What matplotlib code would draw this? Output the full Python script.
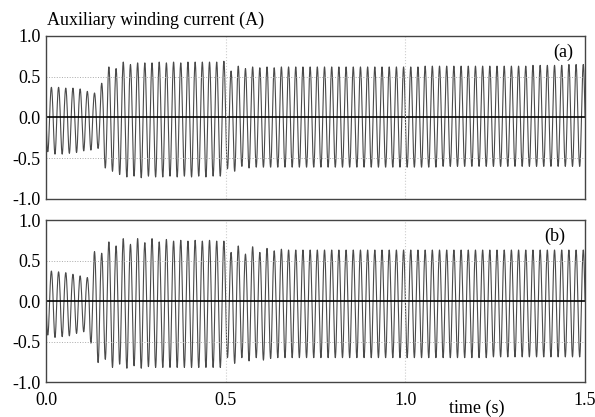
import numpy as np
import matplotlib.pyplot as plt

plt.rcParams["font.family"] = "Liberation Serif"

# supply frequency and per-cycle extremes
freq = 50.0
t_end = 1.5

peaks_a = ([0.37, 0.37, 0.36, 0.36, 0.35, 0.32, 0.30, 0.42,
            0.62, 0.60, 0.68, 0.65, 0.67, 0.67, 0.67, 0.68, 0.67, 0.68,
            0.67, 0.68, 0.68, 0.68, 0.68, 0.68, 0.69,
            0.57, 0.63, 0.60, 0.62, 0.61, 0.62, 0.61]
           + [0.62] * 20 + [0.63] * 15 + [0.64] * 5 + [0.65] * 3)
troughs_a = ([-0.42, -0.45, -0.45, -0.44, -0.43, -0.41, -0.40, -0.38,
              -0.62, -0.66, -0.70, -0.73, -0.72, -0.74, -0.72, -0.73, -0.73, -0.72,
              -0.73, -0.72, -0.73, -0.72, -0.73, -0.72, -0.72,
              -0.63, -0.66, -0.60, -0.62, -0.61]
             + [-0.61] * 25 + [-0.60] * 20)

peaks_b = ([0.37, 0.36, 0.35, 0.33, 0.31, 0.29,
            0.61, 0.59, 0.73, 0.68, 0.77, 0.70, 0.77, 0.72, 0.77, 0.73, 0.76, 0.74,
            0.75, 0.74, 0.75, 0.74, 0.75, 0.74, 0.74,
            0.60, 0.68, 0.58, 0.67, 0.60, 0.65, 0.62, 0.64, 0.63]
           + [0.63] * 41)
troughs_b = ([-0.42, -0.45, -0.44, -0.43, -0.40, -0.38,
              -0.52, -0.76, -0.72, -0.82, -0.78, -0.83, -0.80, -0.83,
              -0.81, -0.82, -0.82, -0.82, -0.82, -0.82, -0.82, -0.82, -0.82, -0.82, -0.82,
              -0.70, -0.77, -0.70, -0.74, -0.70, -0.73, -0.71]
             + [-0.70] * 30 + [-0.69] * 13)


def waveform(peaks, troughs):
    t = np.linspace(0, t_end, 6001)
    k = np.minimum((t * freq).astype(int), len(peaks) - 1)
    s = -np.sin(2 * np.pi * freq * t)
    amp = np.where(s < 0, -np.array(troughs)[k], np.array(peaks)[k])
    return t, s * amp


fig = plt.figure(figsize=(5.95, 4.17), dpi=100)
ax_a = fig.add_axes([0.0773, 0.5228, 0.906, 0.391])
ax_b = fig.add_axes([0.0773, 0.0839, 0.906, 0.3885])

panels = [(ax_a, peaks_a, troughs_a, "(a)", 0.978), (ax_b, peaks_b, troughs_b, "(b)", 0.963)]
for ax, pk, tr, tag, tx in panels:
    t, y = waveform(pk, tr)
    ax.plot(t, y, color="#4a4a4a", lw=0.8)
    ax.axhline(0, color="black", lw=1.2)
    for yy in (0.5, -0.5):
        ax.axhline(yy, color="#aaaaaa", lw=0.7, ls=":")
    for xx in (0.5, 1.0):
        ax.axvline(xx, color="#cccccc", lw=0.8, ls=":")
    ax.set_xlim(0, 1.5)
    ax.set_ylim(-1, 1)
    ax.set_yticks([-1, -0.5, 0, 0.5, 1])
    ax.set_yticklabels(["-1.0", "-0.5", "0.0", "0.5", "1.0"])
    ax.tick_params(length=0, labelsize=13, pad=4)
    for sp in ax.spines.values():
        sp.set_color("#444444")
        sp.set_linewidth(1.0)
    ax.text(tx, 0.898, tag, transform=ax.transAxes, fontsize=13, ha="right", va="center")

ax_a.set_xticks([])
ax_b.set_xticks([0, 0.5, 1.0, 1.5])
ax_b.set_xticklabels(["0.0", "0.5", "1.0", "1.5"])
ax_b.tick_params(axis="x", pad=7)

fig.text(0.079, 0.93, "Auxiliary winding current (A)", fontsize=13, ha="left", va="bottom")
fig.text(0.802, 0.0, "time (s)", fontsize=13, ha="center", va="bottom")

fig.savefig("out.png", dpi=100)
